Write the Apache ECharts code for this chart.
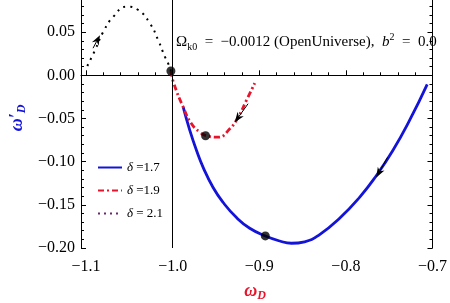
<!DOCTYPE html>
<html>
<head>
<meta charset="utf-8">
<script src="https://cdn.jsdelivr.net/npm/echarts@6/dist/echarts.min.js"></script>
<style>
html,body{margin:0;padding:0;background:#fff;}
#c{width:450px;height:303px;}
</style>
</head>
<body>
<div id="c"></div>
<script>
// ---- data ----
const xMajorTicks = [-1.1, -1.0, -0.9, -0.8, -0.7];
const xMinorTicks = [-1.08,-1.06,-1.04,-1.02,-0.98,-0.96,-0.94,-0.92,-0.88,-0.86,-0.84,-0.82,-0.78,-0.76,-0.74,-0.72];
const yMajorTicks = [-0.20, -0.15, -0.10, -0.05, 0.00, 0.05];
const yMinorTicks = [-0.19,-0.18,-0.17,-0.16,-0.14,-0.13,-0.12,-0.11,-0.09,-0.08,-0.07,-0.06,-0.04,-0.03,-0.02,-0.01,0.01,0.02,0.03,0.04,0.06,0.07,0.08];

const blueX = [-0.9878, -0.9801, -0.9724, -0.9648, -0.9533, -0.9417, -0.9263, -0.9110, -0.8929, -0.8764, -0.8629, -0.8476, -0.8303, -0.8072, -0.7842, -0.7649, -0.7458, -0.7265, -0.7061];
const blueY = [-0.0369, -0.0640, -0.0872, -0.1066, -0.1299, -0.1473, -0.1648, -0.1771, -0.1861, -0.1919, -0.1945, -0.1928, -0.1845, -0.1655, -0.1413, -0.1163, -0.0872, -0.0523, -0.0105];

const redX = [-1.002, -0.9986, -0.9878, -0.9782, -0.9686, -0.9617, -0.9475, -0.934, -0.9244, -0.9148, -0.9052];
const redY = [0.005, -0.0095, -0.0369, -0.0562, -0.0659, -0.0698, -0.0717, -0.0620, -0.0485, -0.0291, -0.0090];

const blackX = [-1.0985, -1.0896, -1.0801, -1.0685, -1.0531, -1.0397, -1.0262, -1.0167, -1.0089, -1.0051, -1.002];
const blackY = [0.0108, 0.0291, 0.0503, 0.0678, 0.0794, 0.0756, 0.0601, 0.0407, 0.0213, 0.0136, 0.005];

const dotX = [-1.002, -0.962, -0.893];
const dotY = [0.005, -0.070, -0.186];

// arrows: tail -> tip
const arrowTailX = [-1.0919, -0.9129, -0.7519];
const arrowTailY = [0.0314, -0.0329, -0.0950];
const arrowTipX = [-1.0839, -0.9282, -0.7649];
const arrowTipY = [0.0465, -0.0543, -0.1183];

const seriesNames = ['δ =1.7', 'δ =1.9', 'δ = 2.1'];

const zip = (xs, ys) => xs.map((x, i) => [x, ys[i]]);
const fmt = (v, d) => (v < 0 ? '\u2212' : '') + Math.abs(v).toFixed(d);

const SERIF = '"Liberation Serif", "DejaVu Serif", serif';
const X_MIN = -1.1058, X_MAX = -0.7, Y_MIN = -0.2, Y_MAX = 0.0872;
const BLUE = '#1414d8', RED = '#e8142c';

const chart = echarts.init(document.getElementById('c'), null, {renderer: 'canvas'});

const baseX = {
  type: 'value', min: X_MIN, max: X_MAX, position: 'bottom',
  splitLine: {show: false}
};
const baseY = {
  type: 'value', min: Y_MIN, max: Y_MAX,
  splitLine: {show: false}
};

function renderArrow(params, api) {
  const p0 = api.coord([api.value(0), api.value(1)]);
  const p1 = api.coord([api.value(2), api.value(3)]);
  const dx = p1[0] - p0[0], dy = p1[1] - p0[1];
  const len = Math.sqrt(dx * dx + dy * dy) || 1;
  const ux = dx / len, uy = dy / len;
  const nx = -uy, ny = ux;
  const hl = 10, hw = 3.8, notch = 7;
  const bx = p1[0] - ux * hl, by = p1[1] - uy * hl;
  const mx = p1[0] - ux * notch, my = p1[1] - uy * notch;
  return {
    type: 'group',
    children: [
      {type: 'line', shape: {x1: p0[0], y1: p0[1], x2: mx, y2: my},
        style: {stroke: '#000', lineWidth: 1}},
      {type: 'polygon', shape: {points: [
        [p1[0], p1[1]],
        [bx + nx * hw, by + ny * hw],
        [mx, my],
        [bx - nx * hw, by - ny * hw]
      ]}, style: {fill: '#000'}}
    ]
  };
}

chart.setOption({
  animation: false,
  backgroundColor: '#fff',
  grid: {left: 81, right: 17, top: 0, bottom: 55, containLabel: false},
  xAxis: [
    Object.assign({}, baseX, {
      axisLine: {show: true, lineStyle: {color: '#000', width: 1}},
      axisTick: {show: true, inside: true, length: 5, customValues: xMajorTicks, lineStyle: {color: '#000'}},
      axisLabel: {show: true, customValues: xMajorTicks, margin: 11, color: '#000',
        fontFamily: SERIF, fontSize: 16, formatter: v => fmt(v, 1)}
    }),
    Object.assign({}, baseX, {
      axisLine: {show: false},
      axisTick: {show: true, inside: true, length: 3, customValues: xMinorTicks, lineStyle: {color: '#000'}},
      axisLabel: {show: false}
    })
  ],
  yAxis: [
    Object.assign({}, baseY, {
      position: 'left',
      axisLine: {show: true, lineStyle: {color: '#000', width: 1}},
      axisTick: {show: true, inside: true, length: 5, customValues: yMajorTicks, lineStyle: {color: '#000'}},
      axisLabel: {show: true, customValues: yMajorTicks, margin: 6, color: '#000',
        fontFamily: SERIF, fontSize: 16, formatter: v => fmt(v, 2)}
    }),
    Object.assign({}, baseY, {
      position: 'left',
      axisLine: {show: false},
      axisTick: {show: true, inside: true, length: 3, customValues: yMinorTicks, lineStyle: {color: '#000'}},
      axisLabel: {show: false}
    }),
    Object.assign({}, baseY, {
      position: 'right',
      axisLine: {show: true, onZero: false, lineStyle: {color: '#000', width: 1}},
      axisTick: {show: true, inside: true, length: 5, customValues: yMajorTicks, lineStyle: {color: '#000'}},
      axisLabel: {show: false}
    }),
    Object.assign({}, baseY, {
      position: 'right',
      axisLine: {show: false},
      axisTick: {show: true, inside: true, length: 3, customValues: yMinorTicks, lineStyle: {color: '#000'}},
      axisLabel: {show: false}
    })
  ],
  legend: {
    orient: 'vertical', left: 92, top: 156,
    itemWidth: 24, itemHeight: 14, itemGap: 10,
    itemStyle: {opacity: 0},
    textStyle: {fontFamily: SERIF, fontSize: 13, color: '#000',
      rich: {i: {fontFamily: SERIF, fontStyle: 'italic', fontSize: 13}, n: {fontFamily: SERIF, fontSize: 13}}},
    formatter: name => '{i|δ}{n|' + name.slice(1) + '}',
    data: [
      {name: seriesNames[0]},
      {name: seriesNames[1]},
      {name: seriesNames[2], lineStyle: {color: '#6a2a6a', type: [2, 4], width: 2}}
    ]
  },
  series: [
    {
      name: seriesNames[0], type: 'line', smooth: true, showSymbol: false, symbol: 'none',
      data: zip(blueX, blueY),
      lineStyle: {color: BLUE, width: 2.8}, itemStyle: {color: BLUE},
      markLine: {
        silent: true, symbol: 'none', label: {show: false},
        lineStyle: {color: '#000', width: 1, type: 'solid'},
        data: [{xAxis: -1.0}]
      }
    },
    {
      name: seriesNames[1], type: 'line', smooth: true, showSymbol: false, symbol: 'none',
      data: zip(redX, redY),
      lineStyle: {color: RED, width: 2.8, type: [6, 3, 2, 3]}, itemStyle: {color: RED}
    },
    {
      name: seriesNames[2], type: 'line', smooth: true, showSymbol: false, symbol: 'none',
      data: zip(blackX, blackY),
      lineStyle: {color: '#000', width: 2, type: [2, 5]}, itemStyle: {color: '#000'}
    },
    {
      name: 'points', type: 'scatter', symbol: 'circle', symbolSize: 9,
      itemStyle: {color: '#000'}, z: 5,
      data: zip(dotX, dotY)
    },
    {
      name: 'arrows', type: 'custom', z: 6,
      encode: {x: [0, 2], y: [1, 3]},
      renderItem: renderArrow,
      data: arrowTipX.map((x, i) => [arrowTailX[i], arrowTailY[i], x, arrowTipY[i]])
    }
  ],
  graphic: [
    {
      type: 'text', left: 176, top: 32, z: 10,
      style: {
        text: '{a|Ω}{s|k0}{a|  =  \u22120.0012 (OpenUniverse),  }{i|b}{p|2}{a|  =  0.0}',
        rich: {
          a: {fontFamily: SERIF, fontSize: 15, fill: '#000', lineHeight: 20, verticalAlign: 'middle'},
          s: {fontFamily: SERIF, fontSize: 10, fill: '#000', lineHeight: 11, verticalAlign: 'bottom'},
          i: {fontFamily: SERIF, fontSize: 15, fontStyle: 'italic', fill: '#000', lineHeight: 20, verticalAlign: 'middle'},
          p: {fontFamily: SERIF, fontSize: 10, fill: '#000', lineHeight: 10, verticalAlign: 'top'}
        }
      }
    },
    {
      type: 'text', x: 255, y: 291, z: 10,
      style: {
        text: '{w|ω}{s|D}', align: 'center', verticalAlign: 'middle',
        rich: {
          w: {fontFamily: SERIF, fontSize: 18, fontStyle: 'italic', fontWeight: 'bold', fill: RED, lineHeight: 22, verticalAlign: 'middle'},
          s: {fontFamily: SERIF, fontSize: 12, fontStyle: 'italic', fontWeight: 'bold', fill: RED, lineHeight: 12, verticalAlign: 'bottom'}
        }
      }
    },
    {
      type: 'text', x: 17, y: 118, rotation: Math.PI / 2, z: 10,
      style: {
        text: '{w|ω\u2032}{s|D}', align: 'center', verticalAlign: 'middle',
        rich: {
          w: {fontFamily: SERIF, fontSize: 18, fontStyle: 'italic', fontWeight: 'bold', fill: BLUE, lineHeight: 22, verticalAlign: 'middle'},
          s: {fontFamily: SERIF, fontSize: 12, fontStyle: 'italic', fontWeight: 'bold', fill: BLUE, lineHeight: 12, verticalAlign: 'bottom'}
        }
      }
    }
  ]
});
</script>
</body>
</html>
